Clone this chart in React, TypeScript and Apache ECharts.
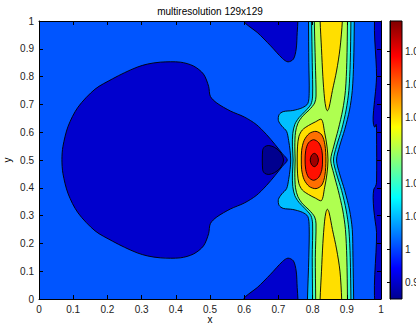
import React, { useEffect, useRef } from 'react';
import * as echarts from 'echarts';

// contour fill colours, lowest level first
const levelColors = ['#00008F', '#0000CD', '#0055FF', '#00BFFF', '#40FFBF', '#AFFF50', '#FFDF00', '#FF6F00', '#FF1000', '#9F0000'];

// colour bar
const cbarMin = 0.98485;
const cbarMax = 1.0691;
const cbarTicks = [0.99, 1, 1.01, 1.02, 1.03, 1.04, 1.05, 1.06];
const jetColors = ['#00008F', '#0000FF', '#00FFFF', '#FFFF00', '#FF0000', '#800000'];
const jetOffsets = [0, 0.111, 0.365, 0.619, 0.873, 1];

// contour regions (x, y in data units)
const darkBlob = [[0.067,0.502],[0.070,0.549],[0.085,0.621],[0.114,0.690],[0.164,0.755],[0.215,0.792],[0.250,0.814],[0.287,0.834],[0.317,0.845],[0.355,0.852],[0.413,0.852],[0.452,0.838],[0.481,0.809],[0.496,0.765],[0.501,0.729],[0.520,0.705],[0.560,0.676],[0.600,0.655],[0.635,0.628],[0.665,0.592],[0.690,0.556],[0.712,0.522],[0.726,0.500],[0.712,0.478],[0.690,0.444],[0.665,0.408],[0.635,0.372],[0.600,0.345],[0.560,0.324],[0.520,0.295],[0.501,0.271],[0.496,0.235],[0.481,0.191],[0.452,0.162],[0.413,0.148],[0.355,0.148],[0.317,0.155],[0.287,0.166],[0.250,0.186],[0.215,0.208],[0.164,0.245],[0.114,0.310],[0.085,0.379],[0.070,0.451]];
const navyBlob = [[0.654,0.465],[0.654,0.535],[0.660,0.548],[0.672,0.552],[0.688,0.546],[0.703,0.532],[0.712,0.515],[0.715,0.500],[0.712,0.485],[0.703,0.468],[0.688,0.454],[0.672,0.448],[0.660,0.452]];
const topDip = [[0.599,1.06],[0.599,1.0],[0.613,0.982],[0.638,0.959],[0.677,0.911],[0.712,0.865],[0.728,0.853],[0.744,0.863],[0.752,0.899],[0.755,0.959],[0.757,1.0],[0.757,1.06]];
const bottomDip = [[0.599,-0.06],[0.599,0.0],[0.613,0.018],[0.638,0.041],[0.677,0.089],[0.712,0.135],[0.728,0.147],[0.744,0.137],[0.752,0.101],[0.755,0.041],[0.757,0.0],[0.757,-0.06]];
const rightStrip = [[1.05,1.05],[0.987,1.05],[0.987,0.80],[0.985,0.76],[0.980,0.70],[0.977,0.655],[0.978,0.628],[0.982,0.618],[0.986,0.628],[0.987,0.60],[0.987,0.42],[0.984,0.405],[0.979,0.395],[0.977,0.365],[0.979,0.32],[0.983,0.28],[0.987,0.24],[0.987,-0.05],[1.05,-0.05]];
const cyanBand = [[0.788,1.05],[0.788,1.0],[0.789,0.85],[0.790,0.74],[0.786,0.703],[0.770,0.688],[0.742,0.678],[0.714,0.674],[0.702,0.663],[0.700,0.642],[0.710,0.622],[0.724,0.603],[0.730,0.57],[0.734,0.535],[0.736,0.50],[0.734,0.465],[0.730,0.43],[0.724,0.397],[0.710,0.378],[0.700,0.358],[0.702,0.337],[0.714,0.326],[0.742,0.322],[0.770,0.312],[0.786,0.297],[0.790,0.26],[0.789,0.15],[0.785,0.0],[0.785,-0.05],[0.920,-0.05],[0.920,0.0],[0.918,0.15],[0.916,0.25],[0.908,0.32],[0.894,0.39],[0.879,0.45],[0.870,0.50],[0.879,0.55],[0.894,0.61],[0.908,0.68],[0.916,0.75],[0.920,0.85],[0.922,1.0],[0.922,1.05]];
const aquaBand = [[0.797,1.05],[0.797,1.0],[0.799,0.85],[0.800,0.73],[0.795,0.70],[0.778,0.675],[0.760,0.652],[0.748,0.628],[0.742,0.595],[0.741,0.55],[0.743,0.50],[0.741,0.45],[0.742,0.405],[0.748,0.372],[0.760,0.348],[0.778,0.325],[0.795,0.30],[0.800,0.27],[0.799,0.15],[0.800,0.0],[0.800,-0.05],[0.912,-0.05],[0.912,0.0],[0.910,0.15],[0.906,0.25],[0.898,0.32],[0.885,0.39],[0.870,0.45],[0.861,0.50],[0.870,0.55],[0.885,0.61],[0.898,0.68],[0.906,0.75],[0.910,0.85],[0.912,1.0],[0.912,1.05]];
const greenBand = [[0.805,1.05],[0.805,1.0],[0.808,0.85],[0.810,0.73],[0.806,0.705],[0.790,0.68],[0.771,0.658],[0.757,0.632],[0.750,0.60],[0.748,0.55],[0.749,0.50],[0.748,0.45],[0.750,0.40],[0.757,0.368],[0.771,0.342],[0.790,0.32],[0.806,0.295],[0.810,0.27],[0.808,0.15],[0.809,0.0],[0.809,-0.05],[0.902,-0.05],[0.902,0.0],[0.900,0.15],[0.896,0.25],[0.888,0.32],[0.875,0.39],[0.862,0.45],[0.853,0.50],[0.862,0.55],[0.875,0.61],[0.888,0.68],[0.896,0.75],[0.900,0.85],[0.902,1.0],[0.902,1.05]];
const yellowTop = [[0.822,1.05],[0.822,1.0],[0.826,0.90],[0.830,0.80],[0.835,0.72],[0.839,0.688],[0.843,0.677],[0.848,0.688],[0.858,0.75],[0.870,0.82],[0.880,0.90],[0.887,1.0],[0.887,1.05]];
const yellowBottom = [[0.822,-0.05],[0.822,0.0],[0.826,0.10],[0.830,0.20],[0.835,0.28],[0.839,0.312],[0.843,0.323],[0.848,0.312],[0.858,0.25],[0.870,0.18],[0.880,0.10],[0.885,0.0],[0.885,-0.05]];
const yellowCore = [[0.826,0.646],[0.808,0.637],[0.788,0.624],[0.770,0.608],[0.760,0.585],[0.756,0.55],[0.755,0.50],[0.756,0.45],[0.760,0.415],[0.770,0.392],[0.788,0.376],[0.808,0.363],[0.826,0.354],[0.835,0.40],[0.842,0.45],[0.845,0.50],[0.842,0.55],[0.835,0.60]];
const orangeCore = [[0.810,0.603],[0.827,0.590],[0.836,0.555],[0.839,0.50],[0.836,0.445],[0.827,0.41],[0.810,0.397],[0.790,0.405],[0.775,0.43],[0.768,0.465],[0.767,0.50],[0.768,0.535],[0.775,0.57],[0.790,0.595]];
const redCore = [[0.803,0.573],[0.818,0.562],[0.827,0.535],[0.829,0.50],[0.827,0.465],[0.818,0.438],[0.803,0.427],[0.788,0.438],[0.780,0.465],[0.778,0.50],[0.780,0.535],[0.788,0.562]];
const darkRedCore = [[0.805,0.524],[0.813,0.517],[0.817,0.50],[0.813,0.483],[0.805,0.476],[0.797,0.483],[0.793,0.50],[0.797,0.517]];

const shapes = [
  { pts: darkBlob, level: 1 },
  { pts: navyBlob, level: 0 },
  { pts: topDip, level: 1 },
  { pts: bottomDip, level: 1 },
  { pts: rightStrip, level: 1 },
  { pts: cyanBand, level: 3 },
  { pts: aquaBand, level: 4 },
  { pts: greenBand, level: 5 },
  { pts: yellowTop, level: 6 },
  { pts: yellowBottom, level: 6 },
  { pts: yellowCore, level: 6 },
  { pts: orangeCore, level: 7 },
  { pts: redCore, level: 8 },
  { pts: darkRedCore, level: 9 },
];

const FONT = 'Liberation Sans, Arial, Helvetica, sans-serif';

export default function App() {
  const ref = useRef<HTMLDivElement>(null);
  useEffect(() => {
    const chart = echarts.init(ref.current!, null, { renderer: 'svg' });
    const axisCommon = {
      type: 'value',
      min: 0,
      max: 1,
      interval: 0.1,
      z: 10,
      splitLine: { show: false },
      axisLine: { show: true, onZero: false, lineStyle: { color: '#000', width: 1 } },
      axisTick: { show: true, inside: true, length: 4, lineStyle: { color: '#000' } },
    };
    const option: any = {
      animation: false,
      backgroundColor: '#fff',
      textStyle: { fontFamily: FONT },
      graphic: [
        { type: 'text', x: 210, y: 11, style: { text: 'multiresolution 129x129', fontSize: 10, fontFamily: FONT, fill: '#000', align: 'center', verticalAlign: 'middle' } },
      ],
      grid: [
        { left: 39, top: 21, width: 342, height: 278, show: true, backgroundColor: levelColors[2], borderWidth: 0, containLabel: false, outerBoundsMode: 'none' },
        { left: 390, top: 21, width: 12, height: 278, show: false, containLabel: false, outerBoundsMode: 'none' },
      ],
      xAxis: [
        { ...axisCommon, gridIndex: 0, position: 'bottom', name: 'x', nameLocation: 'middle', nameGap: 15, nameMoveOverlap: false,
          nameTextStyle: { fontSize: 10, color: '#000', fontFamily: FONT },
          axisLabel: { fontSize: 10, color: '#222', margin: 5, fontFamily: FONT } },
        { ...axisCommon, gridIndex: 0, position: 'top', axisLabel: { show: false } },
        { type: 'value', gridIndex: 1, min: 0, max: 1, show: false },
      ],
      yAxis: [
        { ...axisCommon, gridIndex: 0, position: 'left', name: 'y', nameLocation: 'middle', nameGap: 27, nameRotate: 90, nameMoveOverlap: false,
          nameTextStyle: { fontSize: 10, color: '#000', fontFamily: FONT },
          axisLabel: { fontSize: 10, color: '#222', margin: 5, fontFamily: FONT } },
        { ...axisCommon, gridIndex: 0, position: 'right', axisLabel: { show: false } },
        { type: 'value', gridIndex: 1, min: cbarMin, max: cbarMax, position: 'right', z: 10,
          splitLine: { show: false },
          axisLine: { show: true, lineStyle: { color: '#000' } },
          axisTick: { show: true, inside: true, length: 3, customValues: cbarTicks, lineStyle: { color: '#000' } },
          axisLabel: { customValues: cbarTicks, fontSize: 10, color: '#222', margin: 3, fontFamily: FONT,
            formatter: (v: number) => String(Math.round(v * 100) / 100) } },
      ],
      series: [
        {
          type: 'custom',
          xAxisIndex: 0,
          yAxisIndex: 0,
          clip: true,
          silent: true,
          data: shapes.map((s, i) => [s.pts[0][0], s.pts[0][1], i]),
          renderItem: (params: any, api: any) => {
            const s = shapes[params.dataIndex];
            const points = s.pts.map((p) => api.coord(p));
            return {
              type: 'polygon',
              z2: params.dataIndex,
              shape: { points, smooth: 0.3 },
              style: { fill: levelColors[s.level], stroke: '#000', lineWidth: 0.9 },
            };
          },
        },
        {
          type: 'custom',
          xAxisIndex: 2,
          yAxisIndex: 2,
          silent: true,
          data: [[0, cbarMin]],
          renderItem: (params: any, api: any) => {
            const p0 = api.coord([0, cbarMax]);
            const p1 = api.coord([1, cbarMin]);
            return {
              type: 'rect',
              shape: { x: p0[0], y: p0[1], width: p1[0] - p0[0], height: p1[1] - p0[1] },
              style: {
                fill: new echarts.graphic.LinearGradient(0, 1, 0, 0,
                  jetColors.map((c, i) => ({ offset: jetOffsets[i], color: c }))),
                stroke: '#000',
                lineWidth: 1,
              },
            };
          },
        },
      ],
    };
    chart.setOption(option);
    return () => chart.dispose();
  }, []);
  return <div ref={ref} style={{ position: 'absolute', left: 0, top: 0, width: 416, height: 325 }} />;
}
